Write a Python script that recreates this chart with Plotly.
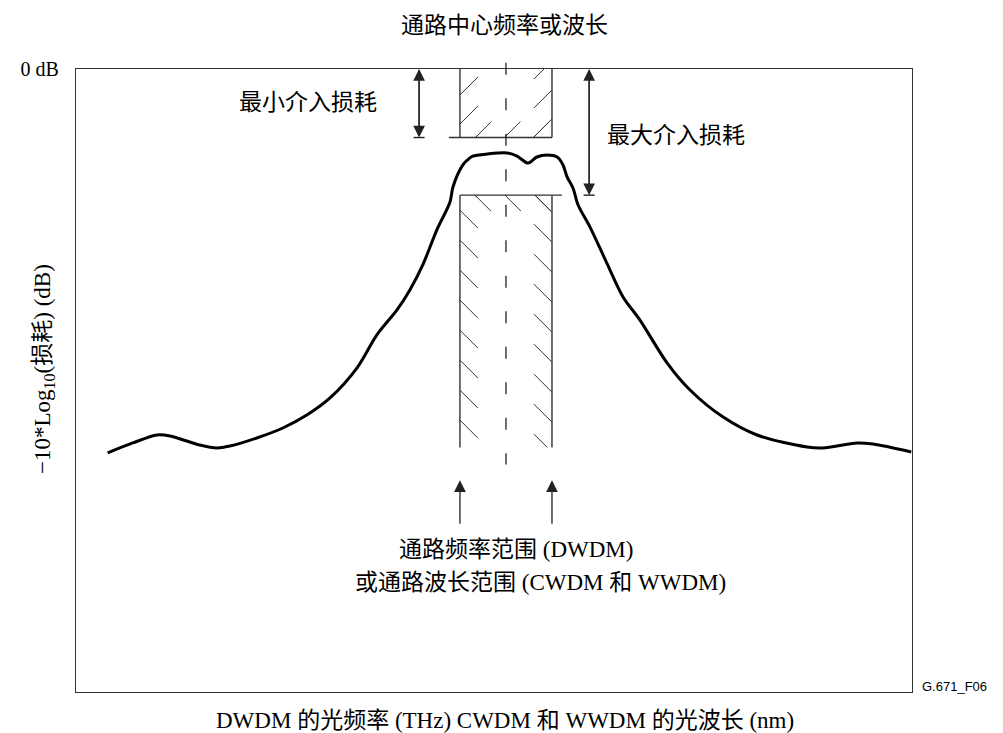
import plotly.graph_objects as go

# ---- canvas / plot-area geometry (pixels) ----
W, H = 1003, 733
PLOT_L, PLOT_R, PLOT_T, PLOT_B = 76, 912, 69, 692

# ---- axes (frequency offset from channel centre in GHz, attenuation in dB) ----
X_RANGE = [-116.8, 110.3]
Y_RANGE = [-40.0, 0.0]

# ---- measured filter response ----
freq_ghz = [-108.2, -101.4, -94.8, -91.3, -83.2, -78.5, -75.0, -67.7, -60.6, -54.1,
            -47.8, -40.5, -35.1, -29.6, -26.1, -22.6, -18.8, -15.2, -14.4, -11.7,
            -9.8, -9.0, -5.2, 0.3, 3.0, 6.0, 8.4, 11.1, 13.9, 15.5,
            16.6, 18.2, 19.6, 22.8, 27.4, 31.8, 36.4, 43.8, 50.0, 59.0,
            68.2, 81.8, 86.1, 95.4, 99.7, 110.1]
loss_db = [-24.65, -24.01, -23.50, -23.56, -24.14, -24.33, -24.21, -23.69, -23.05, -22.22,
           -21.12, -19.20, -17.08, -15.47, -14.19, -12.58, -10.34, -8.54, -7.58, -6.16,
           -5.71, -5.59, -5.46, -5.39, -5.59, -6.04, -5.65, -5.52, -5.65, -6.16,
           -6.93, -7.64, -8.73, -10.14, -12.46, -14.64, -16.12, -18.88, -20.61, -22.35,
           -23.50, -24.27, -24.33, -24.01, -24.08, -24.59]

# ---- channel mask ----
passband_ghz = [-12.5, 12.5]
centre_ghz = 0.0
min_il_db = -4.4
max_il_db = -8.1
mask_floor_db = -24.3

# ---- annotation anchors ----
min_arrow_ghz = -23.6
max_arrow_ghz = 22.6
upper_ledge_ghz = -15.5     # left extension of the min-IL line
lower_ledge_ghz = 15.2      # right extension of the max-IL line
centre_line_db = [0.4, -25.4]
range_arrow_db = [-26.4, -29.3]

INK = "#222222"
EDGE = "#333333"
SERIF_CJK = "Liberation Serif, Noto Sans CJK SC, sans-serif"


# ---- coordinate helpers ----
def x2px(x):
    return PLOT_L + (x - X_RANGE[0]) / (X_RANGE[1] - X_RANGE[0]) * (PLOT_R - PLOT_L)


def y2px(y):
    return PLOT_B - (y - Y_RANGE[0]) / (Y_RANGE[1] - Y_RANGE[0]) * (PLOT_B - PLOT_T)


def px2x(px):
    return X_RANGE[0] + (px - PLOT_L) / (PLOT_R - PLOT_L) * (X_RANGE[1] - X_RANGE[0])


def py2y(py):
    return Y_RANGE[0] + (PLOT_B - py) / (PLOT_B - PLOT_T) * (Y_RANGE[1] - Y_RANGE[0])


def paper_x(px):
    return (px - PLOT_L) / (PLOT_R - PLOT_L)


def paper_y(py):
    return (PLOT_B - py) / (PLOT_B - PLOT_T)


def y2paper(y):
    return (y - Y_RANGE[0]) / (Y_RANGE[1] - Y_RANGE[0])


# ---- hatching: 45 degree strokes clipped to strips along the mask edges ----
def clip(p0, p1, rect):
    x0, y0 = p0
    x1, y1 = p1
    xmin, xmax, ymin, ymax = rect
    dx, dy = x1 - x0, y1 - y0
    t0, t1 = 0.0, 1.0
    for p, q in ((-dx, x0 - xmin), (dx, xmax - x0), (-dy, y0 - ymin), (dy, ymax - y0)):
        if p == 0:
            if q < 0:
                return None
            continue
        r = q / p
        if p < 0:
            t0 = max(t0, r)
        else:
            t1 = min(t1, r)
        if t0 > t1:
            return None
    return (x0 + t0 * dx, y0 + t0 * dy), (x0 + t1 * dx, y0 + t1 * dy)


def hatch(rects, slope_sign, offsets):
    xs, ys = [], []
    for c in offsets:
        # slope_sign=+1 -> "/" (x + y = c in screen px), -1 -> "\" (x - y = c)
        a = (-200.0, c + 200.0) if slope_sign > 0 else (-200.0, -200.0 - c)
        b = (1400.0, c - 1400.0) if slope_sign > 0 else (1400.0, 1400.0 - c)
        for r in rects:
            seg = clip(a, b, r)
            if seg is None:
                continue
            (ax_, ay_), (bx_, by_) = seg
            if abs(bx_ - ax_) < 0.5:
                continue
            xs += [px2x(ax_), px2x(bx_), None]
            ys += [py2y(ay_), py2y(by_), None]
    return xs, ys


STRIP = 18     # hatch strip width along the verticals (px)
BAND = 16      # hatch strip height along the horizontal edge (px)

bl, br = x2px(passband_ghz[0]), x2px(passband_ghz[1])
top0 = y2px(Y_RANGE[1])
ymin_px, ymax_px = y2px(min_il_db), y2px(max_il_db)
yfloor_px = y2px(mask_floor_db)

upper_rects = [
    (bl, bl + STRIP, top0, ymin_px),
    (br - STRIP, br, top0, ymin_px),
    (bl, br, ymin_px - BAND, ymin_px),
]
upper_offsets = [bl + top0 + 26 + 29 * k for k in range(6)]
hx1, hy1 = hatch(upper_rects, +1, upper_offsets)

lower_rects = [
    (bl, bl + STRIP, ymax_px, yfloor_px),
    (br - STRIP, br, ymax_px, yfloor_px),
    (bl, br, ymax_px, ymax_px + BAND),
]
lower_offsets = [(br - ymax_px) - 17 - 30 * k for k in range(13)]
hx2, hy2 = hatch(lower_rects, -1, lower_offsets)

fig = go.Figure()

fig.add_trace(go.Scatter(x=hx1 + hx2, y=hy1 + hy2, mode="lines",
                         line=dict(color=EDGE, width=1), hoverinfo="skip", showlegend=False))

fig.add_trace(go.Scatter(x=freq_ghz, y=loss_db, mode="lines",
                         line=dict(color="black", width=3, shape="spline", smoothing=0.9),
                         showlegend=False))

shapes = []


def seg(x0, y0, x1, y1, width=1.4, color=EDGE, **kw):
    d = dict(type="line", xref="x", yref="y", x0=x0, y0=y0, x1=x1, y1=y1,
             line=dict(color=color, width=width))
    d.update(kw)
    shapes.append(d)


# minimum insertion-loss box (hangs from 0 dB)
seg(passband_ghz[0], Y_RANGE[1], passband_ghz[0], min_il_db)
seg(passband_ghz[1], Y_RANGE[1], passband_ghz[1], min_il_db)
seg(upper_ledge_ghz, min_il_db, passband_ghz[1], min_il_db)
# maximum insertion-loss box (open at the bottom)
seg(passband_ghz[0], max_il_db, lower_ledge_ghz, max_il_db)
seg(passband_ghz[0], max_il_db, passband_ghz[0], mask_floor_db)
seg(passband_ghz[1], max_il_db, passband_ghz[1], mask_floor_db)

# stop ticks under the insertion-loss arrows
tick_half_px = 5.5
seg(px2x(x2px(min_arrow_ghz) - tick_half_px), min_il_db,
    px2x(x2px(min_arrow_ghz) + tick_half_px), min_il_db, width=1.4, color=INK)
seg(px2x(x2px(max_arrow_ghz) - tick_half_px), max_il_db,
    px2x(x2px(max_arrow_ghz) + tick_half_px), max_il_db, width=1.4, color=INK)

# channel centre (dashed)
shapes.append(dict(type="line", xref="x", yref="paper",
                   x0=centre_ghz, x1=centre_ghz,
                   y0=y2paper(centre_line_db[0]), y1=y2paper(centre_line_db[1]),
                   line=dict(color=INK, width=1.3, dash="12px,23.5px")))

annotations = []


def arrow(x, y_tip, y_tail):
    annotations.append(dict(x=x, y=y_tip, ax=x, ay=y_tail, xref="x", yref="y",
                            axref="x", ayref="y", text="", showarrow=True,
                            arrowhead=2, arrowsize=1.8, arrowwidth=1.3,
                            arrowcolor=INK, standoff=0, startstandoff=0))


arrow(min_arrow_ghz, Y_RANGE[1], min_il_db)
arrow(min_arrow_ghz, min_il_db, Y_RANGE[1])
arrow(max_arrow_ghz, Y_RANGE[1], max_il_db)
arrow(max_arrow_ghz, max_il_db, Y_RANGE[1])
arrow(passband_ghz[0], range_arrow_db[0], range_arrow_db[1])
arrow(passband_ghz[1], range_arrow_db[0], range_arrow_db[1])


def label(text, px, py, size=23, family=SERIF_CJK, angle=0, xanchor="center"):
    annotations.append(dict(text=text, xref="paper", yref="paper",
                            x=paper_x(px), y=paper_y(py), xanchor=xanchor, yanchor="middle",
                            showarrow=False, textangle=angle,
                            font=dict(family=family, size=size, color="black")))


label("通路中心频率或波长", 504, 25)
label("最小介入损耗", 308, 102)
label("最大介入损耗", 676, 135)
label("通路频率范围 (DWDM)", 516, 549)
label("或通路波长范围 (CWDM 和 WWDM)", 540, 582)
label("DWDM 的光频率 (THz) CWDM 和 WWDM 的光波长 (nm)", 505, 720)
label("−10*Log<sub>10</sub>(损耗) (dB)", 44, 369, size=23, angle=-90)
label("G.671_F06", 920, 686, size=13, family="Liberation Sans, Arial, sans-serif",
      xanchor="left")

fig.update_layout(
    width=W, height=H,
    margin=dict(l=PLOT_L, r=W - PLOT_R, t=PLOT_T, b=H - PLOT_B, pad=0),
    paper_bgcolor="white", plot_bgcolor="white",
    shapes=shapes, annotations=annotations,
    showlegend=False,
    xaxis=dict(range=X_RANGE, showgrid=False, zeroline=False, showticklabels=False,
               ticks="", showline=True, mirror=True, linecolor=EDGE, linewidth=1.3,
               fixedrange=True),
    yaxis=dict(range=Y_RANGE, showgrid=False, zeroline=False, ticks="",
               tickvals=[0], ticktext=["0 dB"], ticklabelstandoff=12,
               tickfont=dict(family="Liberation Serif, serif", size=20, color="black"),
               showline=True, mirror=True, linecolor=EDGE, linewidth=1.3,
               fixedrange=True),
)

fig.write_html("out.html", config={"displayModeBar": False})
